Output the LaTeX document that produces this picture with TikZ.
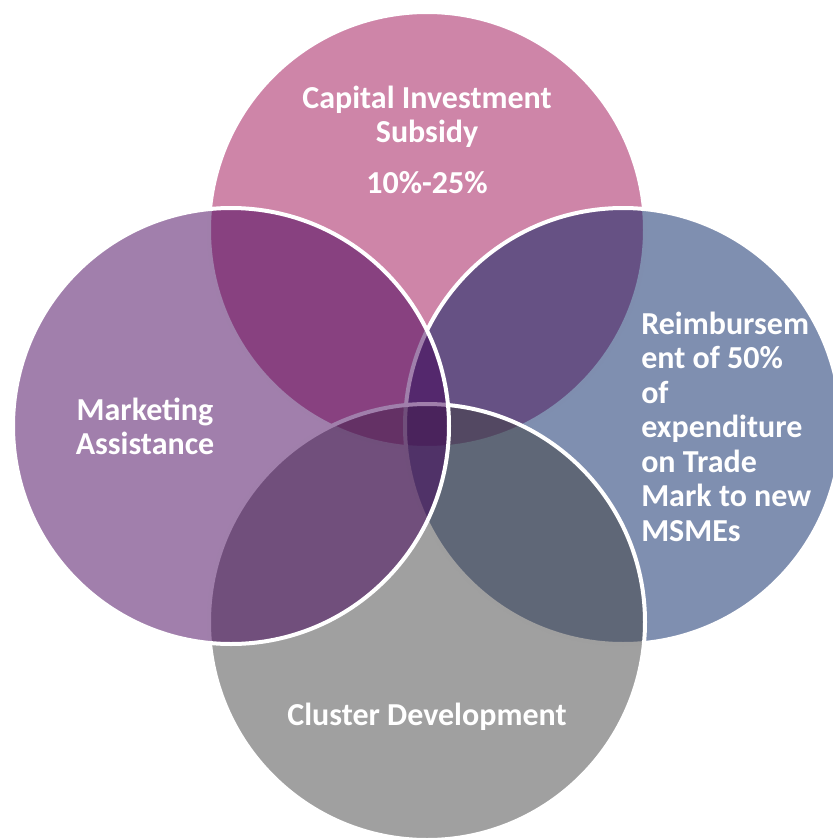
\documentclass[tikz,border=0pt]{standalone}
\usepackage{fontspec}
\setmainfont{Carlito}
\usepackage{xcolor}
\usepackage{tikz}
\usetikzlibrary{positioning}
\definecolor{vennCapital}{RGB}{157,11,81}
\definecolor{vennMarket}{RGB}{67,0,89}
\definecolor{vennTrade}{RGB}{0,31,97}
\definecolor{vennCluster}{RGB}{65,65,65}
\tikzset{
  venn/circle/.style = {circle, minimum size=327pt, inner sep=0pt, draw=white,
                        line width=3pt, fill opacity=0.5},
  venn/label/.style  = {text=white, font=\fontsize{24}{25.9}\selectfont\bfseries,
                        inner sep=0pt},
}

\begin{document}
\begin{tikzpicture}[x=0.75pt, y=-0.75pt]
      \useasboundingbox (0,0) rectangle (832,839);
      % --- Centre of the diagram and spread of the four circles ---
      \def\xMid {427}
      \def\yMid {426}
      \def\dOff {196}
      % --- Circles (order sets which white rim stays on top) ---
      \node[venn/circle, fill=vennCapital] (capital) at (\xMid, \yMid-\dOff) {};
      \node[venn/circle, fill=vennTrade]   (trade)   at (\xMid+\dOff, \yMid) {};
      \node[venn/circle, fill=vennCluster] (cluster) at (\xMid, \yMid+\dOff) {};
      \node[venn/circle, fill=vennMarket]  (market)  at (\xMid-\dOff, \yMid) {};
      % --- Labels ---
      \node[venn/label, align=center, anchor=north] (capitalTxt) at (427, 85.5)
        {Capital Investment\\Subsidy\\[12pt]10\%-25\%};
      \node[venn/label, align=center, anchor=north] (marketTxt) at (145, 397.5)
        {Marketing\\Assistance};
      \node[venn/label, align=left, anchor=north west] (tradeTxt) at (641, 311.5)
        {Reimbursem\\ent of 50\%\\of\\expenditure\\on Trade\\Mark to new\\MSMEs};
      \node[venn/label, anchor=north] (clusterTxt) at (427, 702.5) {Cluster Development};
\end{tikzpicture}
\end{document}
